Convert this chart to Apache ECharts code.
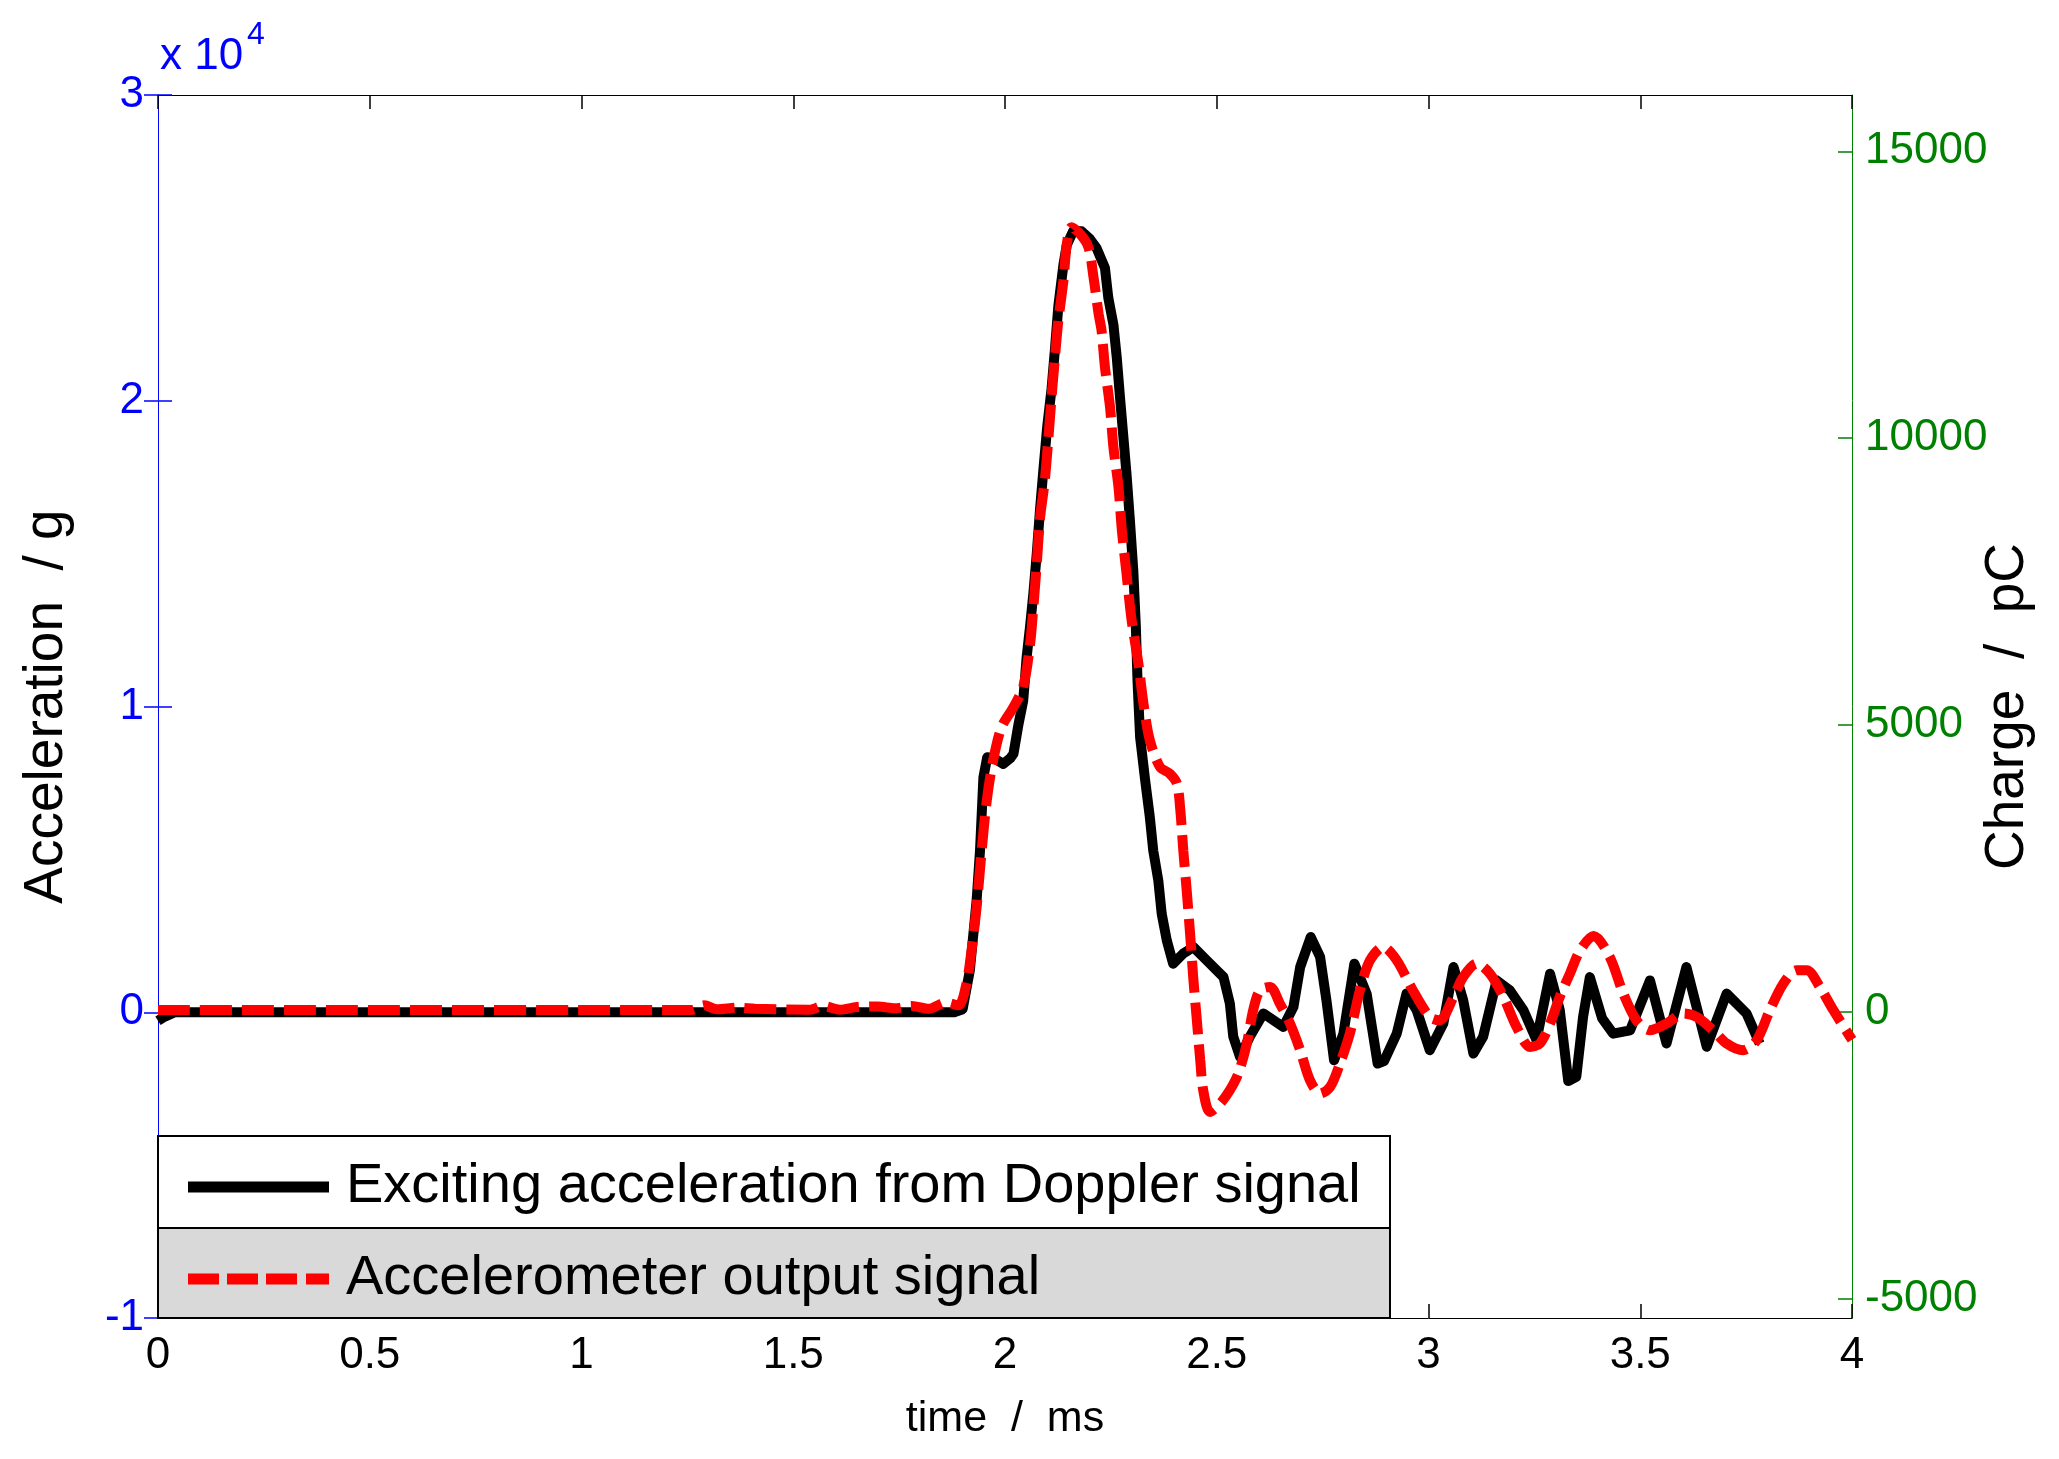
<!DOCTYPE html>
<html><head><meta charset="utf-8">
<script src="https://cdn.jsdelivr.net/npm/echarts@6/dist/echarts.min.js"></script>
<style>html,body{margin:0;padding:0;background:#fff}#c{width:2059px;height:1459px}</style>
</head><body><div id="c"></div>
<script>
// ---- data ----
const accelTime = [0.000,0.015,0.040,1.880,1.900,1.917,1.933,1.941,1.949,1.958,1.975,1.996,2.012,2.020,2.032,2.043,2.051,2.059,2.067,2.075,2.083,2.091,2.100,2.110,2.118,2.126,2.138,2.146,2.161,2.181,2.200,2.216,2.236,2.244,2.256,2.264,2.271,2.279,2.287,2.295,2.303,2.309,2.313,2.319,2.331,2.342,2.350,2.362,2.370,2.382,2.397,2.421,2.445,2.476,2.516,2.531,2.539,2.555,2.578,2.610,2.657,2.681,2.697,2.722,2.744,2.759,2.777,2.799,2.825,2.854,2.880,2.895,2.925,2.948,2.972,3.003,3.035,3.059,3.082,3.106,3.129,3.161,3.192,3.224,3.255,3.287,3.310,3.330,3.349,3.365,3.381,3.410,3.436,3.476,3.523,3.562,3.609,3.657,3.704,3.751,3.782];
const accelG = [-280,-150,0,0,100,1370,3660,5290,7680,8340,8300,8120,8300,8450,9430,10190,11600,12600,13700,15000,16500,17800,19200,20400,21700,23100,24450,25100,25550,25540,25300,25000,24340,23360,22490,21400,20200,18900,17590,16070,14430,12600,10800,9000,7580,6380,5290,4310,3220,2350,1590,1920,2130,1700,1150,280,-800,-1460,-800,-40,-480,170,1480,2460,1810,390,-1570,-700,1590,600,-1680,-1600,-700,610,70,-1240,-370,1480,390,-1350,-800,1040,720,70,-910,1260,70,-2250,-2110,-150,1150,-200,-700,-590,1040,-1020,1480,-1130,610,-40,-1020];

const chargeTime = [0.00,1.26,1.29,1.32,1.37,1.41,1.54,1.57,1.61,1.65,1.70,1.74,1.78,1.82,1.86,1.89,1.909,1.921,1.933,1.945,1.957,1.972,1.992,2.020,2.043,2.059,2.067,2.075,2.083,2.094,2.102,2.110,2.118,2.126,2.138,2.146,2.157,2.177,2.197,2.209,2.221,2.228,2.236,2.248,2.256,2.268,2.276,2.287,2.299,2.315,2.327,2.342,2.366,2.389,2.406,2.414,2.421,2.429,2.437,2.445,2.453,2.461,2.468,2.484,2.508,2.531,2.551,2.571,2.586,2.602,2.626,2.649,2.673,2.697,2.720,2.744,2.768,2.791,2.815,2.838,2.862,2.893,2.925,2.963,3.003,3.026,3.059,3.082,3.114,3.145,3.177,3.208,3.240,3.263,3.287,3.310,3.334,3.358,3.390,3.428,3.460,3.491,3.523,3.562,3.602,3.633,3.672,3.704,3.743,3.775,3.806,3.838,3.869,3.893,3.924,3.956,4.000];
const chargePC = [40,40,120,50,80,60,45,110,45,90,100,70,110,60,170,120,500,1080,1834,2821,3692,4389,4969,5317,5665,6400,7058,7814,8626,9265,9962,10716,11413,12051,12748,13387,13676,13561,13329,12806,12168,11877,11238,10542,9845,9148,8394,7640,6827,6073,5376,4737,4272,4157,3983,3518,2821,2125,1370,557,-139,-836,-1358,-1736,-1590,-1358,-1068,-545,35,383,441,151,-197,-662,-1184,-1416,-1300,-893,-350,383,906,1137,906,383,-82,-139,266,615,848,674,266,-256,-604,-545,-197,266,674,1080,1330,963,326,-139,-313,-197,-23,-82,-313,-545,-662,-488,35,500,731,731,441,35,-480];

const seriesNames = ['Exciting acceleration from Doppler signal', 'Accelerometer output signal'];
const accelTickLabels = ['-1','0','1','2','3'];   // x 10^4 g
const chargeTicks = [-5000, 0, 5000, 10000, 15000];
const xTickStep = 0.5;

// ---- chart ----
const FONT = '"Liberation Sans", Arial, Helvetica, sans-serif';
const BLUE = '#0000ff', GREEN = '#008000';
const CHARGE_MIN = -5327, CHARGE_MAX = 15980;

const accelData = accelTime.map((t, i) => [t, accelG[i]]);
const chargeData = chargeTime.map((t, i) => [t, chargePC[i]]);

const chart = echarts.init(document.getElementById('c'), null, {renderer: 'canvas'});
chart.setOption({
  animation: false,
  backgroundColor: '#fff',
  grid: {left: 158, right: 207, top: 95, bottom: 141, containLabel: false, outerBoundsMode: 'none'},
  xAxis: [{
    type: 'value', position: 'bottom', min: 0, max: 4, interval: xTickStep,
    axisLine: {show: true, onZero: false, lineStyle: {color: '#000', width: 1}},
    axisTick: {show: true, inside: true, length: 14, lineStyle: {color: '#000', width: 1.5}},
    axisLabel: {color: '#000', fontSize: 44, fontFamily: FONT, margin: 16},
    splitLine: {show: false},
    name: 'time  /  ms', nameLocation: 'middle', nameGap: 80, nameMoveOverlap: false,
    nameTextStyle: {color: '#000', fontSize: 43, fontFamily: FONT}
  }, {
    type: 'value', position: 'top', min: 0, max: 4, interval: xTickStep,
    axisLine: {show: true, onZero: false, lineStyle: {color: '#000', width: 1}},
    axisTick: {show: true, inside: true, length: 14, lineStyle: {color: '#000', width: 1.5}},
    axisLabel: {show: false}, splitLine: {show: false}
  }],
  yAxis: [{
    type: 'value', position: 'left', min: -10000, max: 30000, interval: 10000,
    axisLine: {show: true, onZero: false, lineStyle: {color: BLUE, width: 1}},
    axisTick: {show: true, inside: true, length: 14, lineStyle: {color: BLUE, width: 1.5}},
    axisLabel: {color: BLUE, fontSize: 44, fontFamily: FONT, margin: 14,
      formatter: v => accelTickLabels[Math.round(v / 10000) + 1]},
    splitLine: {show: false},
    name: 'Acceleration  / g', nameLocation: 'middle', nameRotate: 90, nameGap: 84, nameMoveOverlap: false,
    nameTextStyle: {color: '#000', fontSize: 55, fontFamily: FONT}
  }, {
    type: 'value', position: 'right', min: CHARGE_MIN, max: CHARGE_MAX,
    axisLine: {show: true, onZero: false, lineStyle: {color: GREEN, width: 1}},
    axisTick: {show: true, inside: true, length: 14, customValues: chargeTicks, lineStyle: {color: GREEN, width: 1.5}},
    axisLabel: {color: GREEN, fontSize: 44, fontFamily: FONT, margin: 13, customValues: chargeTicks,
      formatter: v => (Math.abs(v % 5000) < 1e-6 ? String(v) : '')},
    splitLine: {show: false},
    name: 'Charge  /  pC', nameLocation: 'middle', nameRotate: 90, nameGap: 128, nameMoveOverlap: false,
    nameTextStyle: {color: '#000', fontSize: 55, fontFamily: FONT}
  }, {
    type: 'value', position: 'right', min: -10000, max: 30000, interval: 10000,
    axisLine: {show: false},
    axisTick: {show: true, inside: true, length: 14, lineStyle: {color: BLUE, width: 1.5}},
    axisLabel: {show: false}, splitLine: {show: false}
  }],
  legend: {
    orient: 'vertical', left: 188, top: 1159, padding: 0, itemGap: 36,
    itemWidth: 141, itemHeight: 11, selectedMode: false,
    itemStyle: {borderWidth: 0},
    textStyle: {fontFamily: FONT, fontSize: 56, lineHeight: 55, color: '#000', padding: [0, 0, 0, 12]},
    data: [
      {name: seriesNames[0], icon: 'rect'},
      {name: seriesNames[1], icon: 'path://M0,0H31V11H0Z M39,0H70V11H39Z M78,0H109V11H78Z M118,0H141V11H118Z'}
    ],
    z: 10
  },
  graphic: [
    {type: 'rect', z: 5, shape: {x: 158, y: 1136, width: 1232, height: 182}, style: {fill: '#fff', stroke: '#000', lineWidth: 2}},
    {type: 'rect', z: 5, shape: {x: 158, y: 1228, width: 1232, height: 90}, style: {fill: '#d9d9d9', stroke: '#000', lineWidth: 2}},
    {type: 'text', z: 5, x: 160, y: 57, style: {text: 'x 10', fill: BLUE, font: '44px ' + FONT, align: 'left', verticalAlign: 'middle'}},
    {type: 'text', z: 5, x: 247, y: 35, style: {text: '4', fill: BLUE, font: '32px ' + FONT, align: 'left', verticalAlign: 'middle'}}
  ],
  series: [{
    name: seriesNames[0], type: 'line', xAxisIndex: 0, yAxisIndex: 0, data: accelData,
    symbol: 'none', showSymbol: false, color: '#000', z: 2,
    lineStyle: {color: '#000', width: 10, join: 'round'}
  }, {
    name: seriesNames[1], type: 'line', xAxisIndex: 0, yAxisIndex: 1, data: chargeData,
    symbol: 'none', showSymbol: false, color: '#ff0000', z: 3, smooth: 0.3,
    lineStyle: {color: '#ff0000', width: 10, type: [32, 10], cap: 'butt'}
  }]
});
</script>
</body></html>
